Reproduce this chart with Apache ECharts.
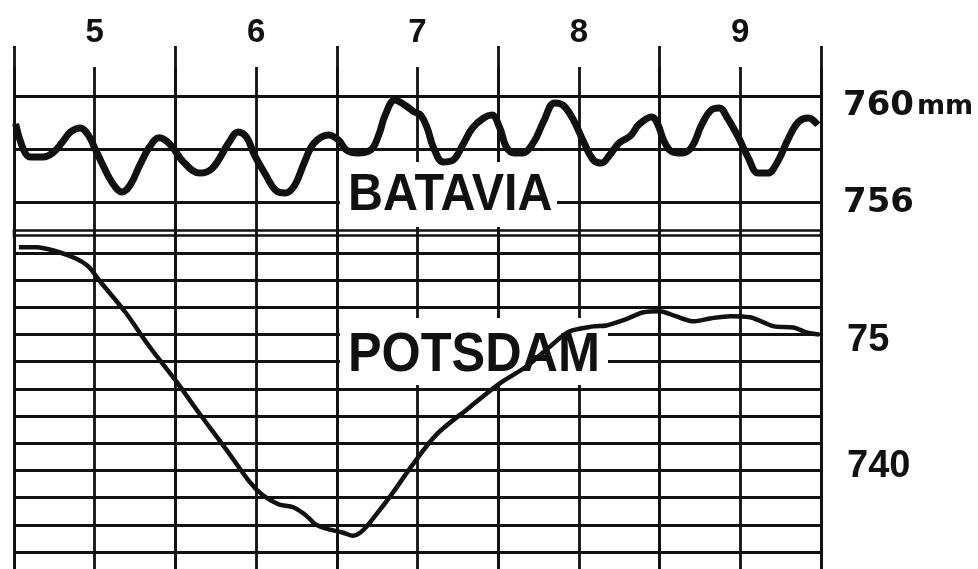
<!DOCTYPE html>
<html><head><meta charset="utf-8">
<script src="https://cdn.jsdelivr.net/npm/echarts@6/dist/echarts.min.js"></script>
<style>html,body{margin:0;padding:0;background:#fff}#c{width:978px;height:569px}</style>
</head><body><div id="c"></div>
<script>
// ---- data ----
const dayLabels = [5, 6, 7, 8, 9];

const bataviaDays = [4.51,4.56,4.60,4.68,4.74,4.80,4.85,4.91,4.96,5.00,
  5.05,5.11,5.17,5.22,5.28,5.34,5.40,5.47,
  5.55,5.65,5.73,5.83,5.89,5.94,5.99,
  6.06,6.12,6.18,6.24,6.30,6.36,6.45,
  6.51,6.56,6.63,6.71,6.76,6.80,6.86,6.92,6.98,
  7.02,7.06,7.10,7.16,7.22,7.28,7.34,7.41,7.46,
  7.51,7.55,7.60,7.65,7.72,7.78,7.85,7.90,7.96,
  8.03,8.09,8.14,8.19,8.25,8.32,8.37,8.45,8.49,
  8.53,8.58,8.64,8.70,8.76,8.82,8.87,8.92,8.99,
  9.05,9.11,9.17,9.23,9.30,9.36,9.42,9.48];
const bataviaMM = [758.95,757.96,757.70,757.70,757.85,758.26,758.64,758.79,758.53,758.04,
  757.40,756.72,756.38,756.64,757.40,758.08,758.42,758.15,
  757.51,757.09,757.28,758.23,758.64,758.45,757.77,
  757.02,756.45,756.34,756.64,757.51,758.23,758.53,
  758.34,757.96,757.85,757.96,758.53,759.28,759.85,759.66,759.40,
  759.28,758.79,758.04,757.51,757.58,758.15,758.79,759.17,759.28,
  758.79,758.08,757.85,757.85,758.26,759.02,759.74,759.66,759.17,
  758.26,757.58,757.47,757.77,758.23,758.50,758.91,759.21,758.91,
  758.26,757.89,757.85,758.08,758.91,759.47,759.55,759.17,758.42,
  757.66,757.09,757.09,757.51,758.42,759.02,759.17,758.91];

const potsdamDays = [4.53,4.64,4.76,4.88,4.96,5.03,5.19,5.34,5.50,5.65,
  5.81,5.96,6.04,6.14,6.23,6.31,6.37,6.46,6.54,6.60,
  6.66,6.74,6.85,6.97,7.12,7.32,7.51,7.67,7.82,7.94,
  8.09,8.17,8.29,8.40,8.50,8.60,8.71,8.82,8.94,9.06,
  9.13,9.21,9.33,9.41,9.49];
const potsdamMM = [756.43,756.43,756.13,755.61,755.01,753.96,751.64,749.10,746.64,744.17,
  741.63,739.16,738.19,737.51,737.29,736.69,736.02,735.64,735.42,735.20,
  735.57,736.69,738.41,740.43,742.67,744.62,746.41,747.61,749.10,750.22,
  750.60,750.67,751.12,751.64,751.72,751.35,750.97,751.20,751.35,751.27,
  750.97,750.60,750.52,750.15,750.00];

const bataviaTicks = [760, 756];
const bataviaTickText = ['760 mm', '756'];
const potsdamTicks = [750, 740];
const potsdamTickText = ['75', '740'];

const bataviaName = 'BATAVIA';
const potsdamName = 'POTSDAM';

// ---- chart ----
const INK = '#111';
const L = 14, W = 807;
const zip = (a, b) => a.map((v, i) => [v, b[i]]);
const isTick = (ticks, v) => {
  const r = Math.round(v);
  return Math.abs(v - r) < 1e-6 ? ticks.indexOf(r) : -1;
};

const chart = echarts.init(document.getElementById('c'), null, {renderer: 'canvas'});

const hidden = {show: false};
const option = {
  animation: false,
  backgroundColor: '#fff',
  grid: [
    {left: L, width: W, top: 46, height: 540},     // half-day tall lines
    {left: L, width: W, top: 67, height: 520},     // all vertical lines + day labels
    {left: L, width: W, top: 96, height: 106},     // Batavia
    {left: L, width: W, top: 253, height: 299},    // Potsdam
    {left: L, width: W, top: 230.5, height: 5, show: true, borderColor: INK, borderWidth: 2.6, backgroundColor: 'transparent'}
  ],
  xAxis: [
    {gridIndex: 0, type: 'value', min: 0, max: 5, interval: 1,
     axisLine: hidden, axisTick: hidden, axisLabel: hidden,
     splitLine: {show: true, lineStyle: {color: INK, width: 2.8}}},
    {gridIndex: 1, type: 'value', min: 4.5, max: 9.5, interval: 0.5, position: 'top',
     axisLine: hidden, axisTick: hidden,
     axisLabel: {
       margin: 18, color: INK, fontFamily: 'Liberation Sans', fontWeight: 'bold', fontSize: 33,
       formatter: v => dayLabels.some(d => Math.abs(d - v) < 1e-6) ? String(Math.round(v)) : ''
     },
     splitLine: {show: true, lineStyle: {color: INK, width: 2.8}}},
    {gridIndex: 2, type: 'value', min: 4.5, max: 9.5, show: false},
    {gridIndex: 3, type: 'value', min: 4.5, max: 9.5, show: false},
    {gridIndex: 4, type: 'value', min: 0, max: 1, show: false}
  ],
  yAxis: [
    {gridIndex: 0, type: 'value', min: 0, max: 1, show: false},
    {gridIndex: 1, type: 'value', min: 0, max: 1, show: false},
    {gridIndex: 2, type: 'value', min: 756, max: 760, interval: 2, position: 'right',
     axisLine: hidden, axisTick: hidden,
     splitLine: {show: true, lineStyle: {color: INK, width: 3}},
     axisLabel: {
       margin: 22, color: INK,
       formatter: v => {
         const i = isTick(bataviaTicks, v);
         if (i < 0) return '';
         const parts = bataviaTickText[i].split(' ');
         return parts.length > 1 ? '{sp|}\n{n|' + parts[0] + '}{u|' + parts[1] + '}' : '{n|' + parts[0] + '}';
       },
       rich: {
         sp: {lineHeight: 18, fontSize: 10},
         n: {fontFamily: 'DejaVu Sans', fontWeight: 'bold', fontSize: 34, color: INK, lineHeight: 36, verticalAlign: 'bottom'},
         u: {fontFamily: 'DejaVu Sans', fontWeight: 'bold', fontSize: 27, color: INK, lineHeight: 36, verticalAlign: 'bottom', padding: [0, 0, 3, 3]}
       }
     }},
    {gridIndex: 3, type: 'value', min: 734, max: 756, interval: 2, position: 'right',
     axisLine: hidden, axisTick: hidden,
     splitLine: {show: true, lineStyle: {color: INK, width: 3}},
     axisLabel: {
       margin: 26, color: INK,
       formatter: v => {
         const i = isTick(potsdamTicks, v);
         if (i < 0) return '';
         return (i === 0 ? '{a|' : '{b|') + potsdamTickText[i] + '}';
       },
       rich: {
         a: {fontFamily: 'Liberation Sans', fontWeight: 'bold', fontSize: 38, color: INK, padding: [12, 0, 0, 0]},
         b: {fontFamily: 'Liberation Sans', fontWeight: 'bold', fontSize: 38, color: INK, padding: [0, 0, 8, 0]}
       }
     }},
    {gridIndex: 4, type: 'value', min: 0, max: 1, show: false}
  ],
  graphic: [
    {type: 'rect', z: 5, shape: {x: 340, y: 162, width: 217, height: 65}, style: {fill: '#fff'}},
    {type: 'text', z: 6, x: 348, y: 196, scaleX: 0.95,
     style: {text: bataviaName, font: 'bold 51px "Liberation Sans", Arial, sans-serif', fill: INK,
             align: 'left', verticalAlign: 'middle', textAlign: 'left', textVerticalAlign: 'middle'}},
    {type: 'rect', z: 5, shape: {x: 340, y: 318, width: 268, height: 67}, style: {fill: '#fff'}},
    {type: 'text', z: 6, x: 348, y: 356, scaleX: 0.9,
     style: {text: potsdamName, font: 'bold 56px "Liberation Sans", Arial, sans-serif', fill: INK,
             align: 'left', verticalAlign: 'middle', textAlign: 'left', textVerticalAlign: 'middle'}}
  ],
  series: [
    {name: bataviaName, type: 'line', xAxisIndex: 2, yAxisIndex: 2, z: 10, clip: false,
     data: zip(bataviaDays, bataviaMM), showSymbol: false, smooth: 0.4,
     lineStyle: {color: INK, width: 7}},
    {name: potsdamName, type: 'line', xAxisIndex: 3, yAxisIndex: 3, z: 10, clip: false,
     data: zip(potsdamDays, potsdamMM), showSymbol: false, smooth: 0.3,
     lineStyle: {color: INK, width: 4.5}}
  ]
};
chart.setOption(option);
</script>
</body></html>
